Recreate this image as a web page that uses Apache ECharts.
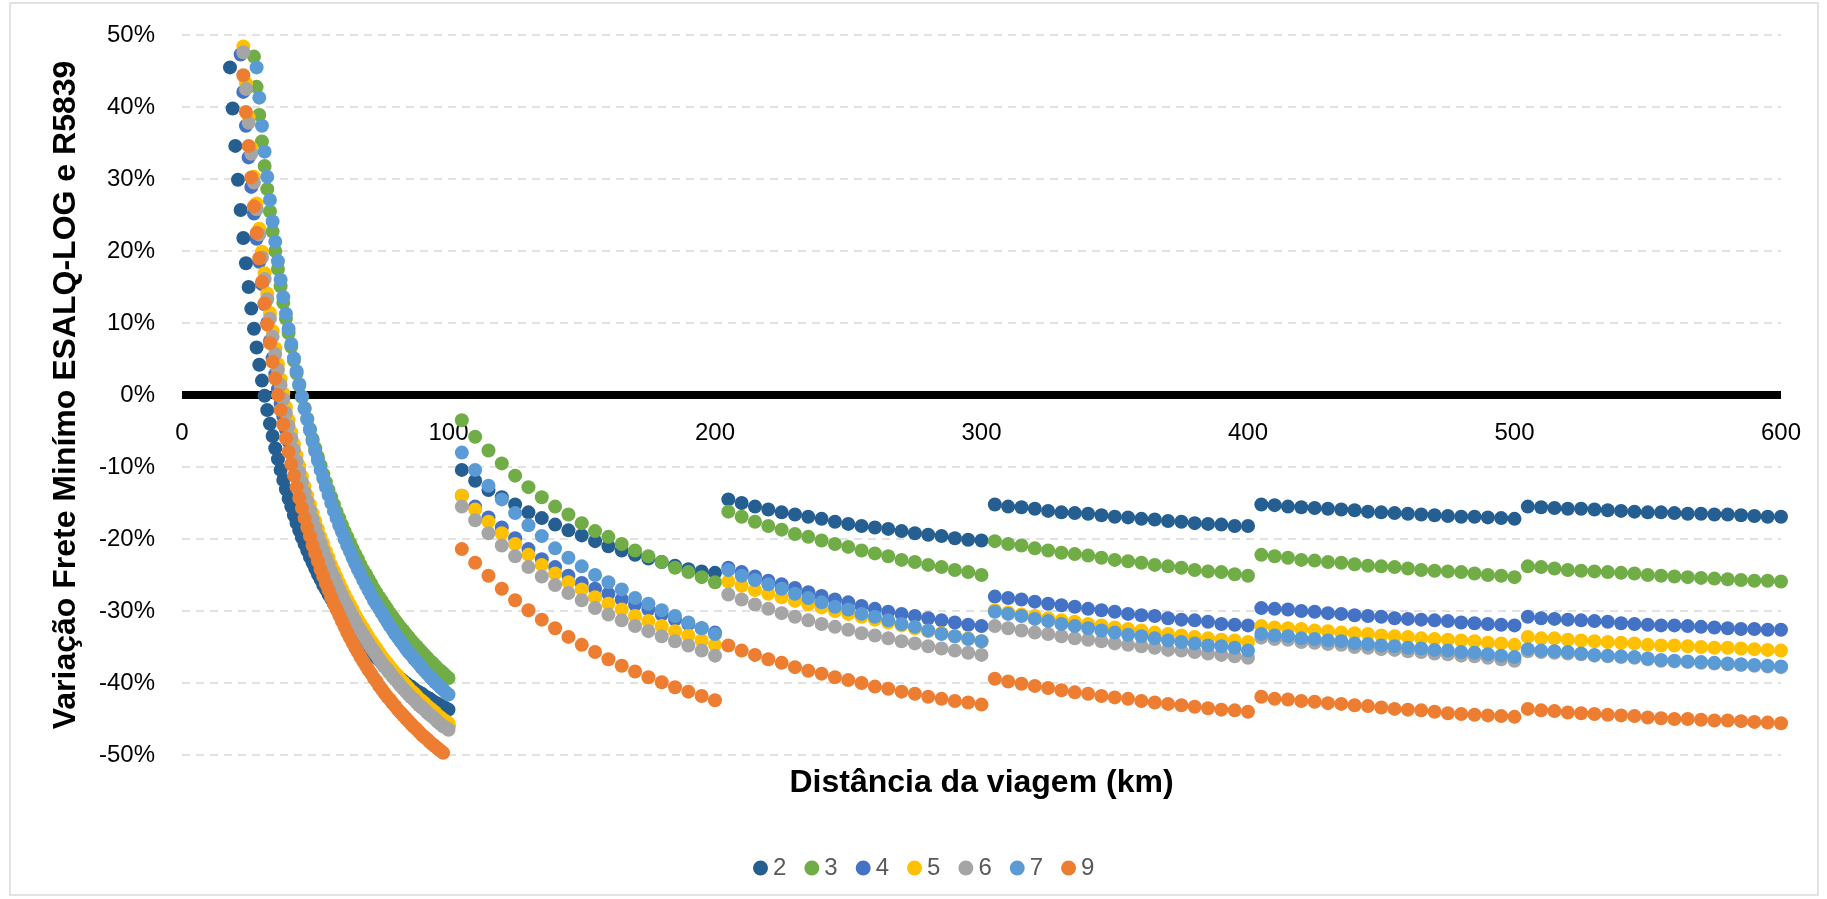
<!DOCTYPE html>
<html>
<head>
<meta charset="utf-8">
<script src="https://cdn.jsdelivr.net/npm/echarts@6/dist/echarts.min.js"></script>
<style>
html,body{margin:0;padding:0;background:#fff;}
#chart{width:1827px;height:899px;}
</style>
</head>
<body>
<div id="chart"></div>
<script>
// Series names (number of axles) and colours
const seriesNames = ['2', '3', '4', '5', '6', '7', '9'];
const seriesColors = ['#255E91', '#70AD47', '#4472C4', '#FFC000', '#A5A5A5', '#5B9BD5', '#ED7D31'];
const xTicks = [0, 100, 200, 300, 400, 500, 600];
const yTicks = [-50, -40, -30, -20, -10, 0, 10, 20, 30, 40, 50];

// First band (1 km steps) : first km shown for each series
const nearStart2 = 18, nearStart3 = 27, nearStart4 = 22, nearStart5 = 23, nearStart6 = 23, nearStart7 = 28, nearStart9 = 23;

// Values (%) for the first band, one per km
const s2Near = [45.5,39.8,34.6,29.9,25.7,21.8,18.3,15.0,12.0,9.2,
6.6,4.2,2.0,-0.1,-2.1,-4.0,-5.7,-7.4,-8.9,-10.4,
-11.8,-13.1,-14.4,-15.5,-16.7,-17.8,-18.8,-19.8,-20.7,-21.6,
-22.5,-23.3,-24.1,-24.9,-25.6,-26.4,-27.0,-27.7,-28.3,-29.0,
-29.5,-30.1,-30.7,-31.2,-31.7,-32.2,-32.7,-33.2,-33.6,-34.1,
-34.5,-34.9,-35.3,-35.7,-36.1,-36.5,-36.8,-37.2,-37.5,-37.9,
-38.2,-38.5,-38.8,-39.1,-39.4,-39.7,-40.0,-40.3,-40.5,-40.8,
-41.1,-41.3,-41.5,-41.8,-42.0,-42.2,-42.5,-42.7,-42.9,-43.1,
-43.3,-43.5,-43.7];
const s3Near = [47.0,42.8,38.9,35.2,31.8,28.6,25.5,22.7,20.0,17.5,
15.1,12.8,10.6,8.6,6.7,4.8,3.0,1.3,-0.3,-1.8,
-3.3,-4.7,-6.1,-7.4,-8.6,-9.8,-11.0,-12.1,-13.2,-14.2,
-15.2,-16.2,-17.1,-18.0,-18.9,-19.7,-20.5,-21.3,-22.1,-22.8,
-23.6,-24.3,-24.9,-25.6,-26.2,-26.9,-27.5,-28.1,-28.6,-29.2,
-29.7,-30.3,-30.8,-31.3,-31.8,-32.3,-32.7,-33.2,-33.6,-34.1,
-34.5,-34.9,-35.3,-35.7,-36.1,-36.5,-36.9,-37.2,-37.6,-38.0,
-38.3,-38.6,-39.0,-39.3];
const s4Near = [47.3,42.1,37.4,33.0,28.9,25.2,21.7,18.5,15.4,12.6,
10.0,7.5,5.1,2.9,0.8,-1.2,-3.0,-4.8,-6.5,-8.1,
-9.6,-11.1,-12.5,-13.8,-15.1,-16.3,-17.5,-18.6,-19.7,-20.7,
-21.7,-22.6,-23.6,-24.4,-25.3,-26.1,-26.9,-27.7,-28.4,-29.2,
-29.9,-30.5,-31.2,-31.8,-32.4,-33.0,-33.6,-34.2,-34.7,-35.2,
-35.7,-36.2,-36.7,-37.2,-37.7,-38.1,-38.6,-39.0,-39.4,-39.8,
-40.2,-40.6,-41.0,-41.3,-41.7,-42.0,-42.4,-42.7,-43.1,-43.4,
-43.7,-44.0,-44.3,-44.6,-44.9,-45.2,-45.4,-45.7,-46.0];
const s5Near = [48.4,43.3,38.6,34.3,30.3,26.6,23.1,19.9,16.9,14.1,
11.4,8.9,6.5,4.3,2.2,0.2,-1.7,-3.5,-5.2,-6.8,
-8.4,-9.9,-11.3,-12.7,-14.0,-15.2,-16.4,-17.5,-18.6,-19.7,
-20.7,-21.7,-22.6,-23.6,-24.4,-25.3,-26.1,-26.9,-27.7,-28.4,
-29.1,-29.8,-30.5,-31.2,-31.8,-32.4,-33.0,-33.6,-34.2,-34.7,
-35.2,-35.8,-36.3,-36.8,-37.2,-37.7,-38.2,-38.6,-39.0,-39.5,
-39.9,-40.3,-40.7,-41.1,-41.4,-41.8,-42.2,-42.5,-42.8,-43.2,
-43.5,-43.8,-44.1,-44.5,-44.8,-45.1,-45.3,-45.6];
const s6Near = [47.6,42.5,37.8,33.5,29.5,25.8,22.3,19.1,16.1,13.3,
10.6,8.1,5.7,3.5,1.4,-0.6,-2.5,-4.3,-6.0,-7.6,
-9.2,-10.7,-12.1,-13.5,-14.8,-16.0,-17.2,-18.4,-19.5,-20.6,
-21.6,-22.6,-23.5,-24.5,-25.3,-26.2,-27.0,-27.8,-28.6,-29.3,
-30.0,-30.7,-31.4,-32.1,-32.7,-33.3,-33.9,-34.5,-35.1,-35.6,
-36.1,-36.7,-37.2,-37.7,-38.1,-38.6,-39.1,-39.5,-39.9,-40.4,
-40.8,-41.2,-41.6,-42.0,-42.3,-42.7,-43.1,-43.4,-43.7,-44.1,
-44.4,-44.7,-45.0,-45.4,-45.7,-46.0,-46.2,-46.5];
const s7Near = [45.5,41.3,37.4,33.8,30.3,27.1,24.1,21.3,18.6,16.0,
13.6,11.3,9.2,7.1,5.1,3.3,1.5,-0.2,-1.9,-3.4,
-4.9,-6.4,-7.8,-9.1,-10.4,-11.6,-12.8,-13.9,-15.0,-16.1,
-17.1,-18.1,-19.0,-20.0,-20.9,-21.7,-22.6,-23.4,-24.2,-24.9,
-25.7,-26.4,-27.1,-27.8,-28.5,-29.1,-29.7,-30.3,-30.9,-31.5,
-32.1,-32.6,-33.2,-33.7,-34.2,-34.7,-35.2,-35.7,-36.1,-36.6,
-37.0,-37.4,-37.9,-38.3,-38.7,-39.1,-39.5,-39.9,-40.2,-40.6,
-40.9,-41.3,-41.6];
const s9Near = [44.4,39.3,34.6,30.2,26.2,22.5,19.0,15.7,12.7,9.8,
7.2,4.6,2.3,0.0,-2.1,-4.1,-6.0,-7.9,-9.6,-11.2,
-12.8,-14.3,-15.7,-17.1,-18.4,-19.6,-20.9,-22.0,-23.1,-24.2,
-25.2,-26.2,-27.1,-28.1,-29.0,-29.8,-30.6,-31.4,-32.2,-33.0,
-33.7,-34.4,-35.1,-35.7,-36.4,-37.0,-37.6,-38.2,-38.7,-39.3,
-39.8,-40.4,-40.9,-41.4,-41.9,-42.3,-42.8,-43.2,-43.7,-44.1,
-44.5,-44.9,-45.3,-45.7,-46.1,-46.4,-46.8,-47.2,-47.5,-47.8,
-48.2,-48.5,-48.8,-49.1,-49.4,-49.7];

// Distances of the later bands: 105 km to 600 km, every 5 km
const farKm = [];
for (let k = 105; k <= 600; k += 5) farKm.push(k);

// Values (%) for 105..600 km (five 100-km bands of 20 points)
const s2Far = [-10.4,-11.9,-13.2,-14.2,-15.2,-16.3,-17.1,-18.0,-18.8,-19.5,-20.3,-21.0,-21.6,-22.2,-22.7,-23.2,-23.7,-24.2,-24.5,-24.7,
-14.5,-15.0,-15.5,-15.9,-16.3,-16.6,-16.9,-17.2,-17.6,-17.9,-18.2,-18.4,-18.6,-18.9,-19.2,-19.4,-19.6,-19.9,-20.1,-20.2,
-15.2,-15.5,-15.6,-15.8,-16.1,-16.3,-16.4,-16.5,-16.7,-16.9,-17.0,-17.2,-17.3,-17.5,-17.6,-17.8,-17.9,-18.0,-18.2,-18.2,
-15.2,-15.3,-15.5,-15.6,-15.7,-15.8,-15.9,-16.0,-16.2,-16.3,-16.4,-16.5,-16.6,-16.7,-16.8,-16.9,-16.9,-17.0,-17.1,-17.2,
-15.5,-15.6,-15.7,-15.8,-15.8,-15.9,-16.0,-16.1,-16.2,-16.3,-16.3,-16.4,-16.5,-16.5,-16.6,-16.6,-16.7,-16.8,-16.9,-16.9];
const s3Far = [-3.5,-5.8,-7.7,-9.5,-11.2,-12.8,-14.2,-15.5,-16.6,-17.8,-18.9,-19.7,-20.7,-21.6,-22.4,-23.2,-24.0,-24.6,-25.3,-26.0,
-16.2,-16.9,-17.6,-18.2,-18.7,-19.3,-19.7,-20.2,-20.7,-21.1,-21.6,-22.0,-22.4,-22.9,-23.2,-23.6,-23.9,-24.3,-24.6,-25.0,
-20.3,-20.7,-20.9,-21.3,-21.6,-21.9,-22.1,-22.3,-22.6,-22.9,-23.1,-23.3,-23.6,-23.8,-24.0,-24.3,-24.5,-24.6,-24.9,-25.1,
-22.2,-22.4,-22.6,-22.9,-23.0,-23.2,-23.3,-23.5,-23.7,-23.8,-23.9,-24.1,-24.3,-24.4,-24.5,-24.6,-24.8,-25.0,-25.1,-25.3,
-23.8,-23.9,-24.1,-24.3,-24.4,-24.5,-24.6,-24.7,-24.8,-25.0,-25.1,-25.2,-25.3,-25.4,-25.5,-25.6,-25.7,-25.8,-25.8,-25.9];
const s4Far = [-14.0,-15.5,-17.0,-18.4,-19.9,-21.4,-22.8,-23.9,-25.1,-26.1,-26.9,-27.6,-28.4,-29.1,-29.8,-30.5,-31.2,-31.8,-32.4,-33.0,
-24.0,-24.6,-25.2,-25.8,-26.3,-26.8,-27.4,-27.9,-28.4,-28.8,-29.3,-29.7,-30.1,-30.4,-30.7,-31.0,-31.3,-31.6,-31.9,-32.1,
-28.0,-28.2,-28.4,-28.7,-29.0,-29.2,-29.4,-29.7,-29.9,-30.1,-30.4,-30.6,-30.7,-31.0,-31.2,-31.3,-31.5,-31.8,-31.9,-32.0,
-29.6,-29.7,-29.8,-30.0,-30.1,-30.3,-30.4,-30.6,-30.7,-30.8,-31.0,-31.1,-31.2,-31.3,-31.4,-31.6,-31.7,-31.8,-31.9,-32.0,
-30.8,-31.0,-31.1,-31.2,-31.3,-31.4,-31.5,-31.7,-31.8,-31.9,-32.0,-32.0,-32.1,-32.2,-32.3,-32.4,-32.5,-32.5,-32.6,-32.6];
const s5Far = [-14.0,-15.9,-17.6,-19.2,-20.7,-22.2,-23.6,-24.8,-26.0,-27.0,-28.1,-29.0,-29.8,-30.7,-31.4,-32.1,-32.8,-33.4,-34.1,-34.7,
-25.9,-26.5,-27.1,-27.6,-28.1,-28.6,-29.1,-29.5,-30.0,-30.4,-30.8,-31.2,-31.6,-32.0,-32.4,-32.8,-33.1,-33.5,-33.8,-34.2,
-29.9,-30.2,-30.5,-30.7,-31.0,-31.3,-31.5,-31.8,-32.0,-32.3,-32.5,-32.7,-33.0,-33.2,-33.4,-33.6,-33.8,-34.0,-34.1,-34.3,
-32.1,-32.3,-32.4,-32.5,-32.7,-32.8,-33.0,-33.1,-33.2,-33.4,-33.5,-33.6,-33.8,-33.9,-34.0,-34.1,-34.2,-34.4,-34.5,-34.7,
-33.6,-33.8,-33.8,-34.0,-34.1,-34.2,-34.3,-34.4,-34.5,-34.7,-34.8,-34.8,-34.9,-35.0,-35.1,-35.1,-35.2,-35.3,-35.4,-35.5];
const s6Far = [-15.5,-17.4,-19.2,-20.9,-22.4,-23.9,-25.2,-26.4,-27.5,-28.5,-29.6,-30.5,-31.3,-32.1,-32.8,-33.5,-34.2,-34.8,-35.5,-36.2,
-27.7,-28.4,-29.1,-29.7,-30.3,-30.8,-31.3,-31.8,-32.2,-32.6,-33.1,-33.4,-33.8,-34.2,-34.5,-34.9,-35.2,-35.5,-35.8,-36.1,
-32.1,-32.4,-32.7,-33.0,-33.2,-33.5,-33.8,-34.0,-34.2,-34.5,-34.7,-34.9,-35.1,-35.4,-35.5,-35.7,-35.9,-36.1,-36.3,-36.5,
-33.7,-33.9,-34.0,-34.3,-34.4,-34.6,-34.7,-35.0,-35.1,-35.3,-35.4,-35.6,-35.7,-35.9,-36.0,-36.2,-36.3,-36.5,-36.7,-36.9,
-35.6,-35.7,-35.8,-35.9,-36.0,-36.2,-36.3,-36.4,-36.5,-36.7,-36.9,-37.0,-37.1,-37.2,-37.3,-37.4,-37.5,-37.6,-37.7,-37.8];
const s7Far = [-8.0,-10.4,-12.6,-14.5,-16.4,-18.1,-19.6,-21.3,-22.6,-23.8,-25.0,-26.0,-27.0,-28.2,-29.0,-29.9,-30.7,-31.6,-32.4,-33.2,
-24.3,-25.1,-25.7,-26.3,-26.9,-27.6,-28.2,-28.8,-29.4,-29.8,-30.4,-30.8,-31.3,-31.8,-32.2,-32.7,-33.2,-33.5,-33.9,-34.2,
-30.1,-30.4,-30.7,-31.1,-31.4,-31.8,-32.1,-32.4,-32.7,-33.0,-33.3,-33.5,-33.8,-34.1,-34.3,-34.5,-34.8,-34.9,-35.1,-35.5,
-33.2,-33.4,-33.5,-33.8,-33.9,-34.1,-34.2,-34.5,-34.6,-34.8,-34.9,-35.1,-35.2,-35.4,-35.5,-35.7,-35.8,-36.0,-36.2,-36.4,
-35.3,-35.5,-35.6,-35.7,-35.9,-36.1,-36.2,-36.3,-36.4,-36.6,-36.8,-36.9,-37.0,-37.1,-37.2,-37.3,-37.4,-37.5,-37.6,-37.7];
const s9Far = [-21.4,-23.3,-25.1,-26.9,-28.5,-29.9,-31.2,-32.4,-33.6,-34.7,-35.7,-36.7,-37.6,-38.4,-39.2,-39.9,-40.6,-41.2,-41.8,-42.4,
-34.8,-35.5,-36.1,-36.7,-37.2,-37.8,-38.3,-38.7,-39.2,-39.6,-40.0,-40.5,-40.8,-41.2,-41.5,-41.9,-42.2,-42.5,-42.7,-43.0,
-39.4,-39.8,-40.1,-40.4,-40.7,-41.0,-41.3,-41.5,-41.8,-42.0,-42.2,-42.5,-42.7,-42.9,-43.1,-43.3,-43.5,-43.7,-43.8,-44.0,
-41.9,-42.2,-42.3,-42.5,-42.6,-42.8,-42.9,-43.1,-43.2,-43.4,-43.6,-43.7,-43.8,-44.0,-44.2,-44.3,-44.4,-44.5,-44.6,-44.7,
-43.6,-43.8,-43.9,-44.1,-44.2,-44.3,-44.4,-44.5,-44.6,-44.8,-44.9,-45.0,-45.0,-45.1,-45.2,-45.2,-45.3,-45.4,-45.5,-45.6];

const FONT = '"Liberation Sans", Arial, sans-serif';

function buildData(start, near, far) {
  const d = near.map((v, i) => [start + i, v]);
  far.forEach((v, i) => d.push([farKm[i], v]));
  return d;
}
const starts = [nearStart2, nearStart3, nearStart4, nearStart5, nearStart6, nearStart7, nearStart9];
const nears = [s2Near, s3Near, s4Near, s5Near, s6Near, s7Near, s9Near];
const fars = [s2Far, s3Far, s4Far, s5Far, s6Far, s7Far, s9Far];

const series = seriesNames.map((name, k) => ({
  name: name,
  type: 'scatter',
  symbol: 'circle',
  symbolSize: 14,
  itemStyle: { color: seriesColors[k], opacity: 1 },
  emphasis: { disabled: true },
  data: buildData(starts[k], nears[k], fars[k])
}));

const GRID_TOP = 35, GRID_BOTTOM = 144;
const chartH = 899;
// distance (px) from the plot bottom edge up to the 0 % level
const zeroOffset = (chartH - GRID_BOTTOM - GRID_TOP) * (0 - yTicks[0]) / (yTicks[yTicks.length - 1] - yTicks[0]);

const chart = echarts.init(document.getElementById('chart'), null, { renderer: 'canvas' });
chart.setOption({
  animation: false,
  backgroundColor: '#ffffff',
  color: seriesColors,
  textStyle: { fontFamily: FONT },
  grid: { left: 182, right: 46, top: GRID_TOP, bottom: GRID_BOTTOM, containLabel: false, outerBoundsMode: 'none' },
  graphic: [{
    type: 'rect', silent: true, z: -10,
    shape: { x: 10, y: 3, width: 1808, height: 892 },
    style: { fill: 'none', stroke: '#D9D9D9', lineWidth: 1.5 }
  }],
  xAxis: {
    type: 'value', min: xTicks[0], max: xTicks[xTicks.length - 1], interval: 100,
    position: 'bottom',
    offset: -zeroOffset,
    axisLine: { onZero: false, lineStyle: { color: '#000000', width: 8, cap: 'butt' } },
    axisTick: { show: false },
    splitLine: { show: false },
    axisLabel: { fontSize: 24, color: '#000000', margin: 26, fontFamily: FONT },
    name: 'Distância da viagem (km)',
    nameLocation: 'middle',
    nameGap: 372,
    nameMoveOverlap: false,
    nameTextStyle: { fontSize: 32, fontWeight: 'bold', color: '#000000', fontFamily: FONT }
  },
  yAxis: {
    type: 'value', min: yTicks[0], max: yTicks[yTicks.length - 1], interval: 10,
    axisLine: { show: false },
    axisTick: { show: false },
    splitLine: { show: true, lineStyle: { color: '#D9D9D9', width: 1.5, type: [8, 6] } },
    axisLabel: { formatter: '{value}%', fontSize: 24, color: '#000000', margin: 27, fontFamily: FONT },
    name: 'Variação Frete Minímo ESALQ-LOG e R5839',
    nameLocation: 'middle',
    nameRotate: 90,
    nameGap: 100,
    nameMoveOverlap: false,
    nameTextStyle: { fontSize: 32, fontWeight: 'bold', color: '#000000', fontFamily: FONT }
  },
  legend: {
    left: 748, top: 851,
    icon: 'circle', itemWidth: 15, itemHeight: 15, itemGap: 18,
    textStyle: { fontSize: 24, color: '#595959', fontFamily: FONT },
    data: seriesNames
  },
  series: series
});
</script>
</body>
</html>
